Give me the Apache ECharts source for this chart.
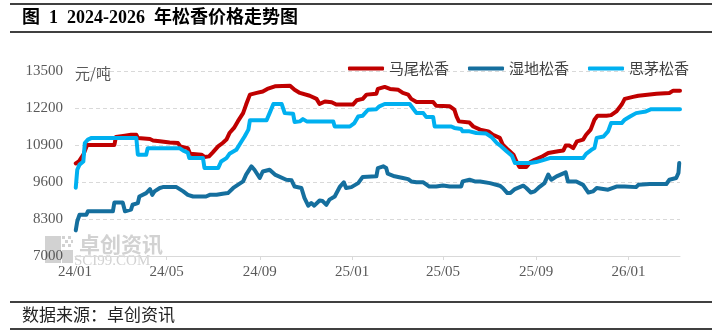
<!DOCTYPE html>
<html>
<head>
<meta charset="utf-8">
<script src="https://cdn.jsdelivr.net/npm/echarts@6/dist/echarts.min.js"></script>
<style>
  html, body { margin: 0; padding: 0; background: #ffffff; }
  #chart { width: 721px; height: 335px; }
</style>
</head>
<body>
<div id="chart"></div>
<script>
// 马尾松香 (Masson pine rosin), 元/吨
const mwDates = ['2024-01-02','2024-01-06','2024-01-09','2024-01-12','2024-01-17','2024-02-22','2024-02-24','2024-03-07','2024-03-15','2024-03-22','2024-03-24','2024-04-09','2024-04-13','2024-04-22','2024-05-05','2024-05-16','2024-05-19','2024-05-29','2024-06-01','2024-06-16','2024-06-20','2024-06-26','2024-07-01','2024-07-08','2024-07-14','2024-07-19','2024-07-23','2024-07-29','2024-08-03','2024-08-10','2024-08-14','2024-08-19','2024-08-28','2024-09-05','2024-09-11','2024-09-21','2024-09-23','2024-10-11','2024-10-17','2024-10-24','2024-11-06','2024-11-15','2024-11-19','2024-11-26','2024-12-05','2024-12-11','2025-01-02','2025-01-07','2025-01-15','2025-01-20','2025-02-02','2025-02-04','2025-02-13','2025-02-20','2025-03-03','2025-03-09','2025-03-16','2025-03-20','2025-03-27','2025-04-18','2025-04-22','2025-05-10','2025-05-16','2025-05-19','2025-05-22','2025-06-05','2025-06-10','2025-06-19','2025-06-30','2025-07-06','2025-07-15','2025-07-19','2025-07-26','2025-08-02','2025-08-06','2025-08-10','2025-08-19','2025-08-24','2025-08-30','2025-09-08','2025-09-17','2025-09-30','2025-10-07','2025-10-10','2025-10-15','2025-10-20','2025-10-25','2025-11-02','2025-11-06','2025-11-12','2025-11-17','2025-11-21','2025-12-03','2025-12-09','2025-12-16','2025-12-23','2025-12-27','2026-01-07','2026-01-14','2026-02-07','2026-02-24','2026-03-01','2026-03-10'];
const mwValues = [10250,10320,10440,10560,10900,10900,11180,11230,11260,11260,11150,11110,11060,11030,10990,10970,10850,10790,10590,10560,10480,10500,10640,10850,10970,11090,11320,11500,11730,12020,12320,12670,12730,12780,12870,12960,12980,12980,12840,12730,12630,12520,12340,12430,12400,12320,12320,12470,12520,12670,12700,12870,12940,12870,12840,12730,12670,12520,12410,12410,12280,12260,12140,11900,11730,11690,11550,11440,11380,11260,11150,10910,10730,10560,10320,10130,10130,10290,10380,10480,10620,10680,10710,10880,10880,10790,11030,11090,11260,11440,11790,11930,11930,11950,12080,12320,12520,12590,12630,12700,12730,12810,12810];

// 湿地松香 (slash pine rosin), 元/吨
const sdDates = ['2024-01-02','2024-01-04','2024-01-07','2024-01-16','2024-01-18','2024-02-20','2024-02-22','2024-03-04','2024-03-07','2024-03-15','2024-03-17','2024-03-24','2024-03-26','2024-04-04','2024-04-09','2024-04-12','2024-04-15','2024-04-22','2024-04-26','2024-05-14','2024-05-23','2024-05-29','2024-06-05','2024-06-22','2024-06-27','2024-07-06','2024-07-14','2024-07-21','2024-07-28','2024-08-03','2024-08-10','2024-08-14','2024-08-21','2024-08-25','2024-09-01','2024-09-05','2024-09-14','2024-09-21','2024-09-23','2024-10-06','2024-10-13','2024-10-17','2024-10-26','2024-10-30','2024-11-04','2024-11-08','2024-11-12','2024-11-19','2024-11-23','2024-11-28','2024-12-02','2024-12-09','2024-12-16','2024-12-21','2024-12-24','2024-12-31','2025-01-09','2025-01-15','2025-02-02','2025-02-04','2025-02-11','2025-02-15','2025-02-17','2025-02-26','2025-03-09','2025-03-16','2025-03-20','2025-03-27','2025-04-05','2025-04-13','2025-04-22','2025-05-01','2025-05-10','2025-05-25','2025-05-27','2025-06-05','2025-06-12','2025-06-19','2025-07-02','2025-07-15','2025-07-19','2025-07-25','2025-07-29','2025-08-04','2025-08-15','2025-08-19','2025-08-25','2025-08-30','2025-09-06','2025-09-12','2025-09-17','2025-09-21','2025-09-28','2025-10-10','2025-10-13','2025-10-24','2025-11-02','2025-11-09','2025-11-15','2025-11-20','2025-12-05','2025-12-16','2025-12-27','2026-01-11','2026-01-14','2026-01-29','2026-02-20','2026-02-24','2026-03-05','2026-03-08','2026-03-09'];
const sdValues = [7900,8220,8450,8450,8570,8570,8880,8880,8570,8630,8800,8860,9090,9210,9350,9150,9270,9390,9420,9420,9270,9150,9090,9090,9150,9150,9190,9210,9390,9500,9620,9860,10150,10030,9740,9970,10030,9860,9820,9680,9660,9440,9390,9040,8770,8860,8770,8950,8930,8800,8980,9090,9440,9590,9390,9420,9560,9780,9800,10090,10150,10090,9890,9800,9740,9700,9620,9590,9590,9440,9440,9480,9440,9440,9620,9680,9620,9620,9560,9470,9390,9210,9210,9350,9470,9390,9230,9270,9440,9560,9860,9680,9800,9940,9620,9620,9500,9230,9270,9390,9330,9440,9440,9420,9500,9530,9530,9680,9740,9920,10270];

// 思茅松香 (Simao pine rosin), 元/吨
const smDates = ['2024-01-02','2024-01-04','2024-01-07','2024-01-12','2024-01-14','2024-01-18','2024-01-23','2024-03-22','2024-03-24','2024-04-04','2024-04-06','2024-05-18','2024-05-23','2024-05-29','2024-05-31','2024-06-18','2024-06-20','2024-07-08','2024-07-12','2024-07-19','2024-07-23','2024-08-01','2024-08-08','2024-08-12','2024-08-17','2024-08-19','2024-09-10','2024-09-14','2024-09-19','2024-09-30','2024-10-04','2024-10-15','2024-10-17','2024-10-24','2024-10-28','2024-11-02','2024-12-07','2024-12-09','2024-12-29','2025-01-04','2025-01-09','2025-01-15','2025-01-22','2025-02-02','2025-02-06','2025-02-13','2025-03-18','2025-03-22','2025-03-27','2025-04-05','2025-04-09','2025-04-18','2025-04-20','2025-05-12','2025-05-16','2025-05-25','2025-05-27','2025-06-05','2025-06-14','2025-06-27','2025-07-04','2025-07-11','2025-07-17','2025-07-24','2025-07-31','2025-08-04','2025-08-24','2025-09-01','2025-09-08','2025-09-19','2025-11-02','2025-11-06','2025-11-13','2025-11-17','2025-11-20','2025-11-29','2025-12-05','2025-12-09','2025-12-23','2025-12-27','2026-01-03','2026-01-11','2026-01-24','2026-01-31','2026-03-10'];
const smValues = [9400,10030,10210,10320,10970,11090,11150,11150,10560,10560,10790,10790,10700,10630,10440,10440,10090,10090,10320,10440,10590,10730,11030,11200,11440,11770,11770,12020,12340,12340,12020,12000,11710,11730,11810,11730,11730,11550,11550,11670,11900,11930,12140,12160,12260,12340,12340,12200,12020,12020,11880,11880,11550,11550,11500,11460,11380,11380,11320,11300,11180,10970,10850,10680,10520,10270,10270,10300,10350,10440,10440,10590,10730,10790,11150,11200,11380,11670,11670,11790,11900,12020,12080,12160,12160];

// Axis settings
const seriesNames = ['马尾松香', '湿地松香', '思茅松香'];
const seriesColors = ['#C00000', '#156F9E', '#00B0F0'];
const xStart = '2024-01-01';
const xEnd = '2026-03-10';
const xTickDates = ['2024-01-01','2024-05-01','2024-09-01','2025-01-01','2025-05-01','2025-09-01','2026-01-01'];
const yMin = 7000, yMax = 13500, yStep = 1300;
const yUnit = '元/吨';
const titleText = '图  1  2024-2026  年松香价格走势图';
const sourceText = '数据来源：卓创资讯';

function toTime(s) {
  const [y, m, d] = s.split('-').map(Number);
  return new Date(y, m - 1, d).getTime();
}
function pairs(dates, values) {
  return dates.map((d, i) => [toTime(d), values[i]]);
}
const tickTimes = xTickDates.map(toTime);

const chart = echarts.init(document.getElementById('chart'), null, { renderer: 'canvas' });

const serifFont = '"Liberation Serif", "DejaVu Serif", serif';
const cjkFont = '"Noto Sans CJK SC", sans-serif';
const titleFont = 'bold 18px "Liberation Serif", "Noto Sans CJK SC", serif';
const gray = '#595959';
const wm = '#d2d2d2';

const option = {
  animation: false,
  backgroundColor: '#ffffff',
  grid: { left: 75, right: 41, top: 71, bottom: 79 },
  legend: {
    left: 348,
    top: 61,
    padding: 0,
    icon: 'roundRect',
    itemWidth: 36,
    itemHeight: 4,
    itemGap: 19,
    textStyle: { color: '#404040', fontSize: 15, fontFamily: cjkFont },
    data: seriesNames
  },
  xAxis: {
    // dates are plotted as timestamps on a linear axis so the ticks can sit on chosen month starts
    type: 'value',
    min: toTime(xStart),
    max: toTime(xEnd),
    axisLine: { lineStyle: { color: '#d9d9d9', width: 1 } },
    axisTick: { show: true, length: 4, customValues: tickTimes, lineStyle: { color: '#d9d9d9' } },
    axisLabel: {
      customValues: tickTimes,
      color: gray,
      fontFamily: serifFont,
      fontSize: 15,
      margin: 9,
      formatter: function (v) {
        const d = new Date(v);
        const yy = String(d.getFullYear()).slice(2);
        const mm = String(d.getMonth() + 1).padStart(2, '0');
        return yy + '/' + mm;
      }
    },
    splitLine: { show: false }
  },
  yAxis: {
    type: 'value',
    min: yMin,
    max: yMax,
    interval: yStep,
    axisLine: { show: false },
    axisTick: { show: false },
    axisLabel: { color: gray, fontFamily: serifFont, fontSize: 15, margin: 12, formatter: v => String(v) },
    splitLine: { lineStyle: { color: '#d9d9d9', type: [4, 3], width: 1 } }
  },
  graphic: [
    // title bar
    { type: 'line', shape: { x1: 10, y1: 4, x2: 712, y2: 4 }, style: { stroke: '#000', lineWidth: 1.5 } },
    { type: 'text', x: 22, y: 18, style: { text: titleText, font: titleFont, fill: '#000', textVerticalAlign: 'middle' } },
    { type: 'line', shape: { x1: 10, y1: 32, x2: 712, y2: 32 }, style: { stroke: '#000', lineWidth: 1.5 } },
    // unit
    { type: 'text', x: 75, y: 73.5, style: { text: yUnit, font: '15px ' + cjkFont, fill: gray, textVerticalAlign: 'middle' } },
    // watermark
    { type: 'group', z: -1, children: [
      { type: 'rect', shape: { x: 45, y: 236, width: 16, height: 27 }, style: { fill: wm } },
      { type: 'rect', shape: { x: 62, y: 250, width: 11, height: 13 }, style: { fill: wm } },
      { type: 'rect', shape: { x: 62, y: 236, width: 3, height: 3 }, style: { fill: wm } },
      { type: 'rect', shape: { x: 68, y: 236, width: 3, height: 3 }, style: { fill: wm } },
      { type: 'rect', shape: { x: 65, y: 240, width: 3, height: 3 }, style: { fill: wm } },
      { type: 'rect', shape: { x: 71, y: 240, width: 2, height: 3 }, style: { fill: wm } },
      { type: 'rect', shape: { x: 62, y: 244, width: 3, height: 3 }, style: { fill: wm } },
      { type: 'rect', shape: { x: 68, y: 244, width: 3, height: 3 }, style: { fill: wm } },
      { type: 'text', x: 79, y: 244, style: { text: '卓创资讯', font: 'bold 21px ' + cjkFont, fill: wm, textVerticalAlign: 'middle' } },
      { type: 'text', x: 74, y: 261, style: { text: 'SCI99.COM', font: '15px ' + serifFont, fill: wm, textVerticalAlign: 'middle' } }
    ] },
    // source bar
    { type: 'line', shape: { x1: 10, y1: 302, x2: 712, y2: 302 }, style: { stroke: '#000', lineWidth: 1.5 } },
    { type: 'text', x: 22, y: 315, style: { text: sourceText, font: '17px ' + cjkFont, fill: '#222', textVerticalAlign: 'middle' } },
    { type: 'line', shape: { x1: 10, y1: 329, x2: 712, y2: 329 }, style: { stroke: '#000', lineWidth: 1.5 } }
  ],
  series: [
    { name: seriesNames[0], data: pairs(mwDates, mwValues) },
    { name: seriesNames[1], data: pairs(sdDates, sdValues) },
    { name: seriesNames[2], data: pairs(smDates, smValues) }
  ].map((s, i) => Object.assign({
    type: 'line',
    showSymbol: false,
    symbol: 'none',
    color: seriesColors[i],
    lineStyle: { width: 4, color: seriesColors[i], join: 'round', cap: 'round' },
    z: 3
  }, s))
};

chart.setOption(option);
</script>
</body>
</html>
